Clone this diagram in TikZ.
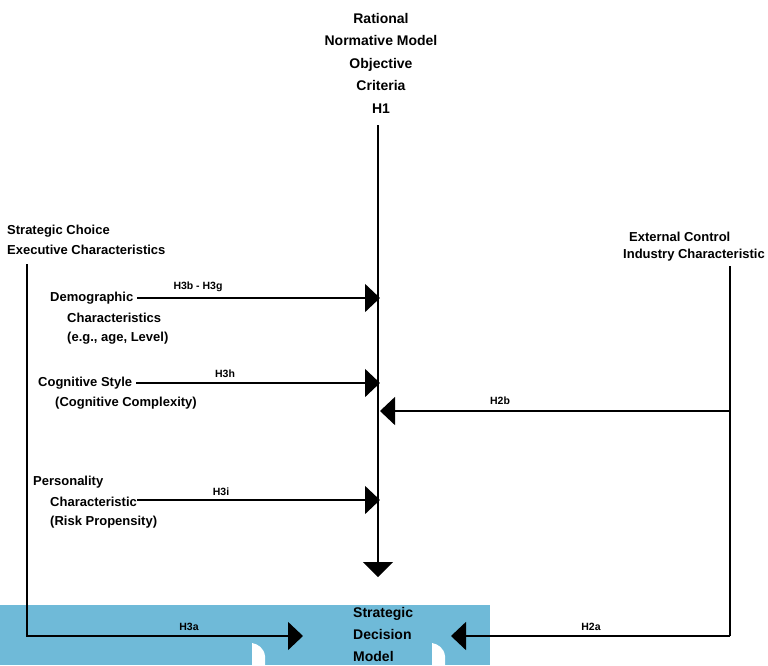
\documentclass[tikz,border=0pt]{standalone}
\usepackage{fontspec}
\setmainfont{Liberation Sans}
\usetikzlibrary{arrows.meta}
\definecolor{bandblue}{RGB}{111,186,216}
\begin{document}
\begin{tikzpicture}[x=1pt,y=-1pt,
  font=\fontsize{13}{16}\selectfont\bfseries,
  txt/.style={inner sep=0pt, anchor=west},
  lab/.style={inner sep=0pt, font=\fontsize{10.5}{12}\selectfont\bfseries},
  conn/.style={line width=1.6pt},
  tipr/.style={-{Triangle[length=15pt,width=28pt]}},
  tipd/.style={-{Triangle[length=15pt,width=30pt]}}]
\useasboundingbox (0,0) rectangle (768,665);
% blue band
\fill[bandblue] (0,605) rectangle (490,665);
\fill[white] (252,665) -- (252,643) .. controls (258,644) and (264,648) .. (265,656) -- (265,665) -- cycle;
\fill[white] (432,665) -- (432,643) .. controls (438,644) and (444,648) .. (445,656) -- (445,665) -- cycle;

% texts
\node[inner sep=0pt, align=center, font=\fontsize{14}{22.5}\selectfont\bfseries] (top) at (381,63)
  {Rational\\Normative Model\\Objective\\Criteria\\H1};
\node[txt, align=left, font=\fontsize{13}{20}\selectfont\bfseries] (sc) at (7,240) {Strategic Choice\\Executive Characteristics};
\node[txt] (ext1) at (629,237) {External Control};
\node[txt] (ext2) at (623,255) {Industry Characteristic};
\node[txt] (demo) at (50,298) {Demographic};
\node[txt] (demo2) at (67,318) {Characteristics};
\node[txt] (demo3) at (67,338) {(e.g., age, Level)};
\node[txt] (cog) at (38,383) {Cognitive Style};
\node[txt] (cog2) at (55,403) {(Cognitive Complexity)};
\node[txt] (pers) at (33,482) {Personality};
\node[txt] (pers2) at (50,502) {Characteristic};
\node[txt] (pers3) at (50,522) {(Risk Propensity)};
\node[txt, align=left, font=\fontsize{14}{22}\selectfont\bfseries] (sdm) at (353,634) {Strategic\\Decision\\Model};

% coordinates
\coordinate (mtop) at (378,125);
\coordinate (mbot) at (378,577);
\coordinate (t1) at (380,298);
\coordinate (t2) at (380,383);
\coordinate (t3) at (380,500);
\coordinate (rt) at (730,266);
\coordinate (rm) at (730,411);
\coordinate (rb) at (730,636);
\coordinate (t4) at (380,411);
\coordinate (lt) at (27,264);
\coordinate (lb) at (27,636);
\coordinate (a3) at (303,636);
\coordinate (a2) at (451,636);

% connectors
\draw[conn, tipd] (mtop) -- (mbot);
\draw[conn, tipr] (demo.east) ++(4,0) -- (t1);
\draw[conn, tipr] (cog.east) ++(4,0) -- (t2);
\draw[conn, tipr] (pers2.east |- t3) -- (t3);
\draw[conn] (rt) -- (rb);
\draw[conn, tipr] (rm) -- (t4);
\draw[conn, tipr] (lt) -- (lb) -- (a3);
\draw[conn, tipr] (rb) -- (a2);

% labels
\node[lab] (l1) at (198,287) {H3b - H3g};
\node[lab] (l2) at (225,374) {H3h};
\node[lab] (l3) at (221,492) {H3i};
\node[lab] (l4) at (500,401) {H2b};
\node[lab] (l5) at (189,627) {H3a};
\node[lab] (l6) at (591,627) {H2a};
\end{tikzpicture}
\end{document}
